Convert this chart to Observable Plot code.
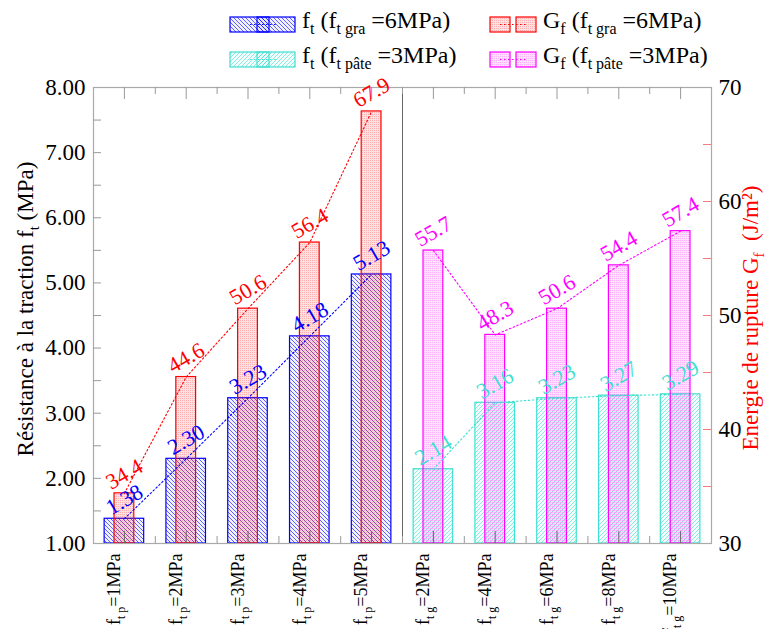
<!DOCTYPE html>
<html><head><meta charset="utf-8">
<script src="https://cdn.jsdelivr.net/npm/d3@7"></script>
<script src="https://cdn.jsdelivr.net/npm/@observablehq/plot@0.6"></script>
<style>
body{margin:0;background:#fff}
#chart{position:relative;width:767px;height:629px}
#chart svg, #chart svg text, #chart svg tspan{font-family:'Liberation Serif',serif !important}
</style>
</head><body><div id="chart"></div>
<script>
// ---- data ----
const categories = [1,2,3,4,5,6,7,8,9,10];
const xSub = ["t p","t p","t p","t p","t p","t g","t g","t g","t g","t g"];
const xVal = ["1MPa","2MPa","3MPa","4MPa","5MPa","2MPa","4MPa","6MPa","8MPa","10MPa"];
const ftGra  = [1.38, 2.30, 3.23, 4.18, 5.13];
const gfGra  = [34.4, 44.6, 50.6, 56.4, 67.9];
const ftPate = [2.14, 3.16, 3.23, 3.27, 3.29];
const gfPate = [55.7, 48.3, 50.6, 54.4, 57.4];
const leftTicks = [1,2,3,4,5,6,7,8];
const rightTicks = [30,40,50,60,70];

// ---- helpers ----
const g2y = g => 1 + (g - 30) * 7 / 40;       // right axis (J/m²) -> left axis units
const y2g = y => 30 + (y - 1) * 40 / 7;
const FONT = "Liberation Serif";

const rowsFtGra  = ftGra.map((v,k) => ({i: categories[k], v}));
const rowsGfGra  = gfGra.map((v,k) => ({i: categories[k], v, y: g2y(v)}));
const rowsFtPate = ftPate.map((v,k) => ({i: categories[k+5], v}));
const rowsGfPate = gfPate.map((v,k) => ({i: categories[k+5], v, y: g2y(v)}));

const wideHalf = 0.32, narrowHalf = 0.16;
const leftMinor = d3.range(1.5, 8, 0.5);
const rightMinor = d3.range(35, 70, 5).map(g2y);
const xMajor = categories;
const xMinor = categories.slice(0, -1).map(c => c + 0.5);

function bars(data, half, yKey, fill, stroke) {
  return Plot.rect(data, {x1: d => d.i - half, x2: d => d.i + half, y1: () => 1, y2: d => d[yKey],
    fill, stroke, strokeWidth: 1.2});
}
function dotted(data, yKey, stroke) {
  return Plot.line(data, {x: "i", y: d => d[yKey], stroke, strokeWidth: 1.1, strokeDasharray: "1.6,2.4"});
}
function labels(data, yKey, fill, digits) {
  return Plot.text(data, {x: "i", y: d => d[yKey], text: d => d.v.toFixed(digits), rotate: -30, dy: -19,
    fill, fontSize: 22, fontFamily: FONT});
}

const chart = Plot.plot({
  width: 767, height: 629,
  marginLeft: 93, marginRight: 56, marginTop: 87, marginBottom: 86,
  style: {fontFamily: FONT, fontSize: "23px", background: "#fff", overflow: "visible"},
  x: {type: "linear", domain: [0.5, 10.5], axis: null},
  y: {domain: [1, 8]},
  marks: [
    bars(rowsFtGra, wideHalf, "v", "url(#hBlue)", "#0000ff"),
    bars(rowsGfGra, narrowHalf, "y", "url(#dRed)", "#ff0000"),
    bars(rowsFtPate, wideHalf, "v", "url(#hCyan)", "#40e0d0"),
    bars(rowsGfPate, narrowHalf, "y", "url(#dMag)", "#ff00ff"),
    Plot.ruleX([5.5], {stroke: "#666", strokeWidth: 1}),
    Plot.frame({stroke: "#aaa", strokeWidth: 1.2}),
    // inner ticks
    Plot.ruleY(leftMinor, {y: d => d, x1: () => 0.5, x2: () => 0.5, insetRight: -8, stroke: "#999"}),
    Plot.ruleY(rightMinor, {y: d => d, x1: () => 10.5, x2: () => 10.5, insetLeft: -8, stroke: "#f08080"}),
    Plot.ruleX(xMajor, {x: d => d, y1: () => 1, y2: () => 1, insetBottom: 12, stroke: "#666"}),
    Plot.ruleX(xMinor, {x: d => d, y1: () => 1, y2: () => 1, insetBottom: 7, stroke: "#999"}),
    Plot.ruleX(xMajor, {x: d => d, y1: () => 8, y2: () => 8, insetBottom: -12, stroke: "#999"}),
    Plot.ruleX(xMinor, {x: d => d, y1: () => 8, y2: () => 8, insetBottom: -7, stroke: "#999"}),
    // connecting dotted lines
    dotted(rowsFtGra, "v", "#0000ff"),
    dotted(rowsGfGra, "y", "#ff0000"),
    dotted(rowsFtPate, "v", "#40e0d0"),
    dotted(rowsGfPate, "y", "#ff00ff"),
    // value labels
    labels(rowsFtGra, "v", "#0000ff", 2),
    labels(rowsGfGra, "y", "#ff0000", 1),
    labels(rowsFtPate, "v", "#40e0d0", 2),
    labels(rowsGfPate, "y", "#ff00ff", 1),
    // axes
    Plot.axisY(leftTicks, {anchor: "left", tickSize: 0, tickPadding: 8, tickFormat: d => d.toFixed(2),
      fontSize: 23, label: null}),
    Plot.axisY(rightTicks.map(g2y), {anchor: "right", tickSize: 0, tickPadding: 7,
      tickFormat: d => String(Math.round(y2g(d))), fontSize: 23, label: null}),
    Plot.text(categories, {x: d => d, y: () => 1, text: (d, k) => "f" + xSub[k] + "=" + xVal[k],
      rotate: -90, textAnchor: "end", dy: 10, dx: -10, fontSize: 18, fill: "#000"})
  ]
});

const svg = d3.select(chart);

// patterns
const defs = svg.insert("defs", ":first-child");
function hatch(id, color, dir) {
  const p = defs.append("pattern").attr("id", id).attr("patternUnits", "userSpaceOnUse")
    .attr("width", 4).attr("height", 4);
  p.append("rect").attr("width", 4).attr("height", 4).attr("fill", color).attr("fill-opacity", 0.06);
  const d = dir === "back" ? "M-1,-1L5,5M-1,3L1,5M3,-1L5,1" : "M-1,5L5,-1M-1,1L1,-1M3,5L5,3";
  p.append("path").attr("d", d).attr("stroke", color).attr("stroke-width", 0.8).attr("stroke-opacity", 0.75);
}
function dots(id, color) {
  const p = defs.append("pattern").attr("id", id).attr("patternUnits", "userSpaceOnUse")
    .attr("width", 2).attr("height", 2);
  p.append("rect").attr("width", 2).attr("height", 2).attr("fill", color).attr("fill-opacity", 0.12);
  p.append("rect").attr("width", 1).attr("height", 1).attr("fill", color).attr("fill-opacity", 0.22);
}
hatch("hBlue", "#0000ff", "back");
hatch("hCyan", "#40e0d0", "fwd");
dots("dRed", "#ff0000");
dots("dMag", "#ff00ff");

// rich text (subscripts) for category labels
svg.selectAll("text").each(function() {
  const el = d3.select(this);
  if (el.selectAll("tspan").size() > 0) return;
  const m = /^f(t [pg])=(.+)$/.exec(el.text());
  if (!m) return;
  el.text(null);
  el.append("tspan").text("f");
  el.append("tspan").attr("font-size", 12).attr("dy", 5).text(m[1]);
  el.append("tspan").attr("dy", -5).text("=" + m[2]);
});

// axis titles
function rich(g, parts, attrs) {
  const t = g.append("text");
  Object.entries(attrs).forEach(([k, v]) => t.attr(k, v));
  let shift = 0;
  parts.forEach(p => {
    const s = t.append("tspan").text(p.t);
    const target = p.sub ? p.sub : 0;
    if (target !== shift) { s.attr("dy", target - shift); shift = target; }
    if (p.size) s.attr("font-size", p.size);
  });
  return t;
}
rich(svg, [{t: "Résistance à la traction f"}, {t: "t", sub: 6, size: 15}, {t: " (MPa)"}],
  {transform: "translate(33,309) rotate(-90)", "text-anchor": "middle", "font-size": 23, fill: "#000"});
rich(svg, [{t: "Energie de rupture G"}, {t: "f", sub: 6, size: 15}, {t: "  (J/m²)"}],
  {transform: "translate(758,318) rotate(-90)", "text-anchor": "middle", "font-size": 23, fill: "#ff0000"});

// legend
const lg = svg.append("g").attr("text-anchor", "start");
function ftSwatch(y, pat, color) {
  lg.append("rect").attr("x", 230).attr("y", y).attr("width", 65).attr("height", 15)
    .attr("fill", `url(#${pat})`).attr("stroke", color).attr("stroke-width", 1.2);
  lg.append("rect").attr("x", 257).attr("y", y).attr("width", 12).attr("height", 15)
    .attr("fill", `url(#${pat})`).attr("stroke", color).attr("stroke-width", 1.2);
  lg.append("line").attr("x1", 250).attr("x2", 277).attr("y1", y + 7.5).attr("y2", y + 7.5)
    .attr("stroke", color).attr("stroke-dasharray", "1.6,2.4");
}
function gfSwatch(y, pat, color) {
  [490, 516].forEach(x => lg.append("rect").attr("x", x).attr("y", y).attr("width", 20).attr("height", 15)
    .attr("fill", `url(#${pat})`).attr("stroke", color).attr("stroke-width", 1.2));
  lg.append("line").attr("x1", 500).attr("x2", 527).attr("y1", y + 7.5).attr("y2", y + 7.5)
    .attr("stroke", color).attr("stroke-dasharray", "1.6,2.4");
}
ftSwatch(17, "hBlue", "#0000ff");
ftSwatch(52, "hCyan", "#40e0d0");
gfSwatch(17, "dRed", "#ff0000");
gfSwatch(52, "dMag", "#ff00ff");
const legendText = [
  {x: 302, y: 28, main: "f", s1: "t", s2: "t gra", val: " =6MPa)"},
  {x: 302, y: 63, main: "f", s1: "t", s2: "t pâte", val: " =3MPa)"},
  {x: 543, y: 28, main: "G", s1: "f", s2: "t gra", val: " =6MPa)"},
  {x: 543, y: 63, main: "G", s1: "f", s2: "t pâte", val: " =3MPa)"}
];
legendText.forEach(l => rich(lg, [{t: l.main}, {t: l.s1, sub: 6, size: 16}, {t: " (f"}, {t: l.s2, sub: 6, size: 16}, {t: l.val}],
  {x: l.x, y: l.y, "font-size": 24, fill: "#000", "text-anchor": "start"}));

document.getElementById("chart").appendChild(chart);
</script>
</body></html>
